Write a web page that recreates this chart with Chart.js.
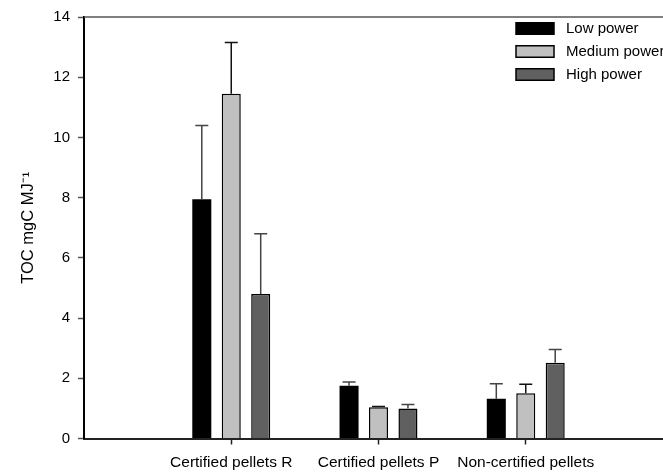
<!DOCTYPE html>
<html>
<head>
<meta charset="utf-8">
<script src="https://cdn.jsdelivr.net/npm/chart.js@4/dist/chart.umd.min.js"></script>
<style>
  html, body { margin: 0; padding: 0; background: #fff; overflow: hidden; }
  #wrap { width: 700px; height: 474px; }
</style>
</head>
<body>
<div id="wrap"><canvas id="c" width="700" height="474"></canvas></div>
<script>
// Categories (empty slots at both ends of the axis)
const categories = ['', 'Certified pellets R', 'Certified pellets P', 'Non-certified pellets', ''];
const seriesNames = ['Low power', 'Medium power', 'High power'];
// Means
const lowPower    = [null, 7.95, 1.75, 1.32, null];
const mediumPower = [null, 11.45, 1.04, 1.50, null];
const highPower   = [null, 4.80, 1.00, 2.52, null];
// Upper error magnitudes
const lowErr    = [null, 2.45, 0.13, 0.50, null];
const mediumErr = [null, 1.70, 0.02, 0.30, null];
const highErr   = [null, 2.00, 0.13, 0.44, null];
const yTicks = [0, 2, 4, 6, 8, 10, 12, 14];

const fills = ['#000000', '#c0c0c0', '#606060'];
const errs = [lowErr, mediumErr, highErr];
const FONT = '"Liberation Sans", Arial, sans-serif';

const errorBarPlugin = {
  id: 'errorBars',
  afterDatasetsDraw(chart) {
    const ctx = chart.ctx;
    const ys = chart.scales.y;
    chart.data.datasets.forEach((ds, di) => {
      const meta = chart.getDatasetMeta(di);
      meta.data.forEach((el, i) => {
        const v = ds.data[i];
        const e = errs[di][i];
        if (v == null || e == null) return;
        const x = el.x;
        const y0 = ys.getPixelForValue(v);
        const y1 = ys.getPixelForValue(v + e);
        ctx.save();
        ctx.strokeStyle = di === 1 ? '#111' : '#444';
        ctx.lineWidth = 1.5;
        ctx.beginPath();
        ctx.moveTo(x, y0);
        ctx.lineTo(x, y1);
        ctx.moveTo(x - 6.5, y1);
        ctx.lineTo(x + 6.5, y1);
        ctx.stroke();
        ctx.restore();
      });
    });
  }
};

const framePlugin = {
  id: 'frame',
  afterDraw(chart) {
    const ctx = chart.ctx;
    const a = chart.chartArea;
    ctx.save();
    ctx.strokeStyle = '#555';
    ctx.lineWidth = 1.5;
    ctx.beginPath();
    ctx.moveTo(a.left, a.top);
    ctx.lineTo(a.right, a.top);
    ctx.stroke();
    // Legend
    const bx = 516, bw = 38, bh = 11.5;
    const rows = [28.5, 51.5, 74.5];
    ctx.font = '15px ' + FONT;
    ctx.textBaseline = 'middle';
    ctx.textAlign = 'left';
    seriesNames.forEach((n, i) => {
      const cy = rows[i];
      ctx.fillStyle = fills[i];
      ctx.fillRect(bx, cy - bh / 2, bw, bh);
      ctx.strokeStyle = '#000';
      ctx.lineWidth = 1.5;
      ctx.strokeRect(bx, cy - bh / 2, bw, bh);
      ctx.fillStyle = '#000';
      ctx.fillText(n, 566, cy + 0.5);
    });
    ctx.restore();
  }
};

const mkDs = (label, data, i) => ({
  label, data,
  backgroundColor: fills[i],
  borderColor: '#000',
  borderWidth: i === 0 ? 0 : 1.5,
  borderSkipped: 'bottom',
  barPercentage: 0.646,
  categoryPercentage: 0.6
});

new Chart(document.getElementById('c'), {
  type: 'bar',
  data: {
    labels: categories,
    datasets: [
      mkDs(seriesNames[0], lowPower, 0),
      mkDs(seriesNames[1], mediumPower, 1),
      mkDs(seriesNames[2], highPower, 2)
    ]
  },
  options: {
    responsive: false,
    animation: false,
    layout: { padding: { top: 15, right: 27, left: 0, bottom: 0 } },
    plugins: { legend: { display: false }, tooltip: { enabled: false } },
    scales: {
      x: {
        offset: false,
        grid: {
          offset: false,
          drawOnChartArea: false,
          tickLength: 6,
          tickColor: (c) => (c.index === 0 || c.index === 4) ? 'rgba(0,0,0,0)' : '#222',
          tickWidth: 1.5
        },
        border: { color: '#222', width: 2 },
        ticks: {
          color: '#000',
          font: { family: FONT, size: 15.5 },
          padding: 9,
          maxRotation: 0,
          autoSkip: false
        },
        afterFit: (s) => { s.height = 35.5; }
      },
      y: {
        min: 0, max: 14,
        afterBuildTicks: (s) => { s.ticks = yTicks.map(v => ({ value: v })); },
        grid: {
          drawOnChartArea: false,
          tickLength: 6,
          tickColor: '#555',
          tickWidth: 1.5
        },
        border: { color: '#000', width: 2 },
        ticks: {
          color: '#000',
          font: { family: FONT, size: 15 },
          padding: 8
        },
        title: {
          display: true,
          text: 'TOC mgC MJ\u207B\u00B9',
          color: '#000',
          font: { family: FONT, size: 16.5 },
          padding: { top: 19, bottom: 0 }
        },
        afterFit: (s) => { s.width = 84; }
      }
    }
  },
  plugins: [errorBarPlugin, framePlugin]
});
</script>
</body>
</html>
